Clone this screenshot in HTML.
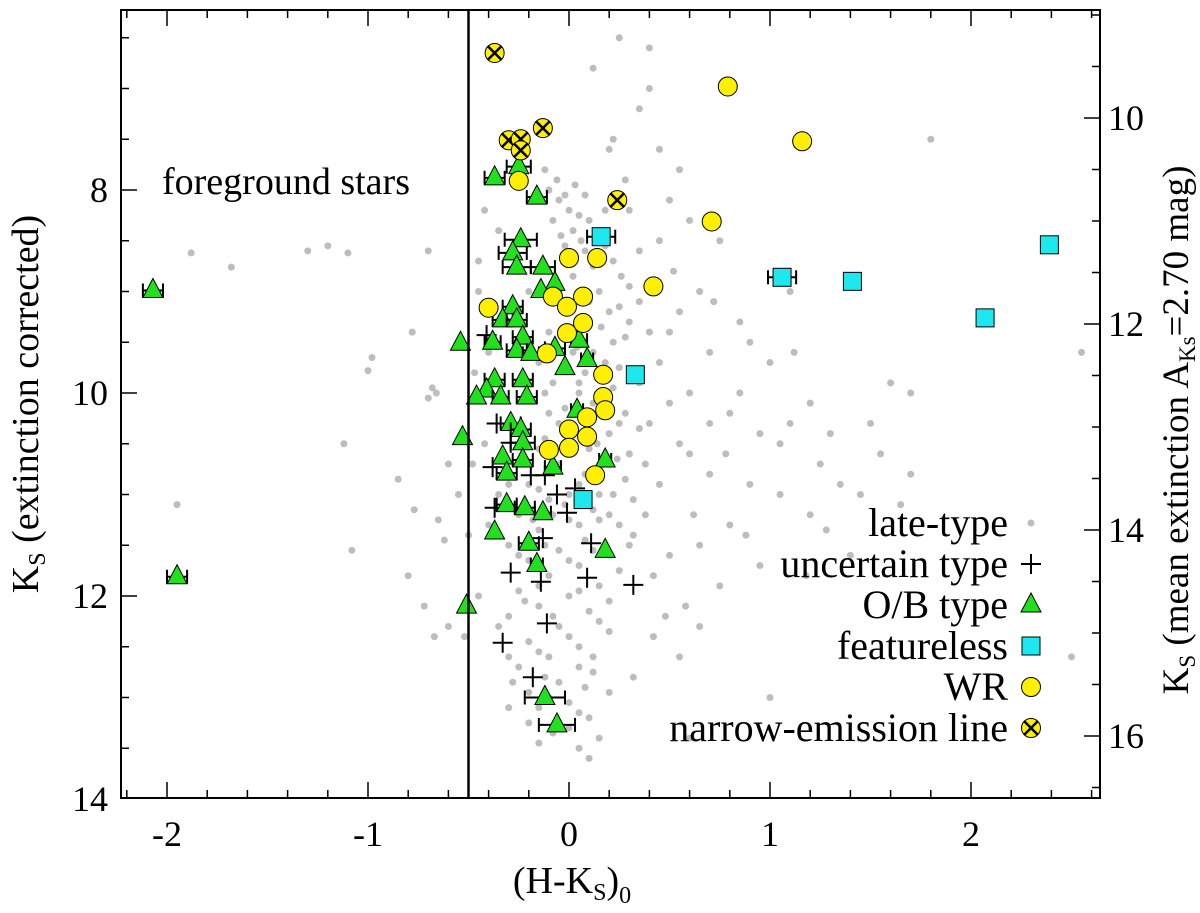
<!DOCTYPE html>
<html><head><meta charset="utf-8"><style>
html,body{margin:0;padding:0;background:#fff;}
svg text{font-family:"Liberation Serif",serif;fill:#000;}
</style></head><body>
<svg id="chart" width="1200" height="908" viewBox="0 0 1200 908" xmlns="http://www.w3.org/2000/svg">
<g id="dots"></g>
<g id="marks"></g>
<g id="axes"></g>
</svg>
<script>
const lateType = [[-1.88,8.62],[-1.68,8.76],[-1.3,8.6],[-1.2,8.55],[-1.1,8.62],[-1.95,11.1],[-1.12,10.5],[-1.08,11.55],[-1.0,9.78],[-0.98,9.65],[-0.85,10.85],[-0.8,11.8],[-0.77,11.15],[-0.72,12.1],[-0.67,12.4],[-0.7,10.05],[-0.65,11.25],[-0.62,11.45],[-0.6,12.3],[-0.78,9.4],[-0.7,8.6],[-0.55,11.0],[-0.6,10.7],[-0.66,10.0],[-0.68,9.95],
[1.8,7.5],[1.7,10.8],[1.7,10.0],[1.65,11.1],[1.5,10.3],[1.4,11.6],[1.35,10.9],[1.28,11.35],[1.25,10.7],[1.2,10.1],[1.18,11.8],[1.1,9.0],[1.05,11.0],[1.0,9.7],[0.95,10.4],[0.9,10.9],[0.88,11.4],[0.85,9.3],[0.8,10.2],[0.78,10.6],[0.75,11.9],[0.7,9.6],[0.7,10.8],[0.65,9.0],[0.62,11.2],[0.6,10.0],[0.58,12.1],[0.55,10.5],[0.5,9.4],[0.5,11.6],[0.45,10.9],[0.45,8.5],[0.42,12.4],[0.4,10.3],[0.4,7.0],[0.38,11.2],[0.35,9.1],[0.32,12.8],[0.3,8.2],[0.3,10.6],[2.55,9.6],[2.5,12.6],[1.0,13.0],[0.6,13.4],[0.4,6.6],[0.25,6.5],[0.22,7.5],[0.2,7.6],[0.12,6.8],[0.35,7.2],
[-0.1,8.0],[-0.05,8.1],[0.0,8.2],[-0.08,8.3],[0.02,8.4],[0.1,8.3],[-0.02,8.55],[0.08,8.6],[0.12,8.75],[0.02,8.85],[-0.05,9.0],[0.15,9.0],[0.2,9.2],[0.1,9.3],[-0.1,9.4],[0.22,9.5],[0.12,9.6],[-0.15,9.7],[0.25,9.75],[0.05,9.9],[-0.12,10.0],[0.15,10.05],[0.28,10.2],[-0.05,10.3],[0.2,10.4],[-0.15,10.55],[0.1,10.55],[0.3,10.6],[-0.05,10.7],[0.15,10.75],[-0.2,10.9],[0.05,10.9],[0.22,11.0],[-0.1,11.05],[0.12,11.15],[-0.25,11.2],[0.0,11.25],[0.25,11.3],[-0.15,11.35],[0.08,11.45],[-0.3,11.5],[-0.05,11.55],[0.2,11.6],[-0.2,11.65],[0.05,11.7],[-0.1,11.8],[0.15,11.9],[-0.25,11.95],[0.0,12.0],[-0.15,12.1],[0.1,12.15],[-0.3,12.2],[-0.05,12.3],[0.2,12.35],[-0.2,12.45],[0.05,12.5],[-0.1,12.6],[-0.25,12.7],[0.12,12.75],[-0.05,12.85],[-0.2,12.95],[0.0,13.05],[-0.15,13.1],[0.1,13.2],[-0.08,13.35],[0.05,13.5],[0.1,13.6],[-0.3,10.9],[-0.35,11.0],[-0.4,11.3],[-0.42,10.5],[-0.45,12.0],[-0.4,9.6],[-0.45,9.0],[-0.35,8.4],[-0.42,8.2],[-0.2,9.0],[0.02,9.6],[0.18,8.2],[0.3,9.3],[0.35,9.9],[0.38,10.7],[0.32,11.4],[-0.1,10.2],[0.05,10.0],[0.0,11.0],[-0.08,11.2],[0.15,11.25],
[-0.12,7.8],[-0.06,7.9],[0.03,7.95],[0.08,8.05],[-0.02,8.05],[0.05,8.25],[0.14,8.4],[-0.04,8.45],[0.06,8.5],[0.18,8.55],[0.22,8.7],[-0.1,8.8],[0.26,8.85],[0.3,8.95],[0.1,9.1],[0.25,9.15],[-0.02,9.2],[0.16,9.35],[0.28,9.45],[0.04,9.55],[0.18,9.7],[0.08,9.8],[0.3,9.85],[-0.08,9.9],[0.22,9.95],[0.12,10.1],[-0.02,10.15],[0.25,10.3],[0.35,10.35],[0.06,10.4],[-0.12,10.45],[0.14,10.5],[0.24,10.65],[-0.1,10.75],[0.08,10.8],[0.28,10.85],[-0.15,10.95],[0.15,11.0],[0.32,11.05],[-0.02,11.1],[0.2,11.2],[-0.18,11.25],[0.05,11.3],[0.3,11.5],[-0.12,11.5],[0.12,11.55],[-0.25,11.6],[0.0,11.65],[0.25,11.75],[-0.15,11.9],[0.05,11.95],[0.2,12.05],[-0.22,12.05],[-0.08,12.2],[0.15,12.25],[-0.35,12.3],[0.0,12.4],[-0.15,12.55],[0.12,12.6],[-0.3,12.6],[0.05,12.7],[-0.12,12.8],[-0.28,12.85],[0.08,12.9],[-0.1,13.0],[0.05,13.15],[-0.2,13.25],[0.0,13.3],[-0.3,13.1],[0.15,13.4],[-0.15,13.45],[0.2,12.95],
[0.45,9.7],[0.5,10.1],[0.55,9.2],[0.6,10.6],[0.65,11.5],[0.7,10.3],[0.72,9.1],[0.8,11.3],[0.85,10.0],[0.9,9.5],[0.95,11.7],[1.05,10.5],[1.1,10.3],[1.12,9.6],[1.2,11.2],[1.3,10.4],[1.45,11.0],[1.55,10.6],[1.6,9.9],[0.42,11.8],[0.48,12.2],[0.55,12.6],[0.65,12.3],[0.4,9.4],[0.52,8.8],[0.6,8.3],[0.75,8.5],[0.5,8.1],[0.45,7.6],[0.55,7.8],[0.28,7.9],[0.35,8.6],[-0.5,11.4],[-0.52,12.4],[-0.48,10.7],[-0.47,9.8],[-0.45,8.7]];
const uncertain = [[-0.37,11.13],[-0.29,11.77],[-0.14,11.86],[0.09,11.82],[0.32,11.89],[-0.11,12.27],[-0.33,12.46],[-0.18,12.80],[-0.06,11.0],[0.03,10.94],[-0.01,11.18],[0.11,11.48],[-0.13,11.43],[-0.19,10.81],[-0.12,10.81],[-0.36,10.30],[-0.29,10.49],[-0.38,10.73],[-0.41,9.43]];
const obType = [[-2.07,8.99],[-1.95,11.81],[-0.54,9.51],[-0.53,10.44],[-0.51,12.10],[-0.37,7.88],[-0.25,7.77],[-0.16,8.07],[-0.24,8.49],[-0.28,8.62],[-0.26,8.76],[-0.13,8.76],[-0.07,8.92],[-0.14,8.99],[-0.28,9.15],[-0.33,9.28],[-0.26,9.28],[-0.23,9.45],[-0.38,9.50],[-0.26,9.58],[-0.19,9.61],[-0.07,9.56],[0.05,9.48],[-0.02,9.75],[0.09,9.67],[-0.37,9.87],[-0.23,9.87],[-0.41,9.97],[-0.46,10.04],[-0.34,10.04],[-0.21,10.04],[-0.29,10.30],[-0.24,10.36],[0.04,10.17],[-0.23,10.49],[-0.33,10.63],[-0.23,10.66],[-0.31,10.79],[-0.08,10.73],[0.18,10.66],[-0.31,11.10],[-0.22,11.13],[-0.13,11.18],[-0.37,11.37],[-0.20,11.48],[0.18,11.55],[-0.16,11.69],[-0.12,13.00],[-0.06,13.27]];
const obErr = [0.05,0.05,0,0,0,0.05,0.06,0.05,0.08,0.07,0.07,0.06,0,0,0.05,0.05,0.05,0.05,0.04,0.05,0.04,0.05,0.04,0,0.03,0.05,0.05,0,0,0.04,0.05,0.05,0.05,0.03,0.06,0,0.05,0.05,0.04,0.03,0.05,0.05,0.04,0,0.05,0,0.03,0.1,0.09];
const wrType = [[0.79,6.98],[1.16,7.52],[0.71,8.31],[0.42,8.95],[0.14,8.67],[-0.25,7.91],[0.00,8.67],[0.07,9.05],[-0.08,9.05],[-0.01,9.15],[0.07,9.31],[-0.01,9.41],[-0.40,9.16],[-0.11,9.61],[0.17,9.82],[0.17,10.04],[0.18,10.17],[0.09,10.24],[0.00,10.36],[0.09,10.43],[0.00,10.54],[-0.10,10.56],[0.13,10.81]];
const featureless = [[0.16,8.46],[0.33,9.82],[0.07,11.05],[1.06,8.86],[1.41,8.90],[2.07,9.26],[2.39,8.54]];
const featErr = [0.07,0,0,0.07,0,0,0];
const narrowEmission = [[-0.37,6.65],[-0.13,7.39],[-0.30,7.51],[-0.24,7.50],[-0.24,7.61],[0.24,8.10]];
const xTicks = [-2,-1,0,1,2];
const yTicks = [8,10,12,14];
const y2Ticks = [10,12,14,16];

const NS='http://www.w3.org/2000/svg';
const L=121,R=1100,T=10,B=798;
const sx=v=>569+v*201;
const sy=v=>190+(v-8)*101.5;
const sy2=v=>118+(v-10)*103;
function el(tag,attrs,parent){const e=document.createElementNS(NS,tag);for(const k in attrs)e.setAttribute(k,attrs[k]);parent.appendChild(e);return e;}
const dots=document.getElementById('dots'),marks=document.getElementById('marks'),axes=document.getElementById('axes');

lateType.forEach(p=>{const c=el('circle',{cx:sx(p[0]),cy:sy(p[1]),r:3.5,fill:'#bdbdbd'},dots);

});
function errbar(x,y,e,g){if(!e)return;const x1=sx(x-e),x2=sx(x+e);el('line',{x1:x1,x2:x2,y1:y,y2:y,stroke:'#000','stroke-width':2},g);el('line',{x1:x1,x2:x1,y1:y-7,y2:y+7,stroke:'#000','stroke-width':2},g);el('line',{x1:x2,x2:x2,y1:y-7,y2:y+7,stroke:'#000','stroke-width':2},g);}
function plus(x,y,g){el('path',{d:`M${x-10},${y}H${x+10}M${x},${y-10}V${y+10}`,stroke:'#000','stroke-width':2,fill:'none'},g);}
function tri(x,y,g){el('path',{d:`M${x},${y-12}L${x+10},${y+7}L${x-10},${y+7}Z`,fill:'#22e01e',stroke:'#000','stroke-width':1},g);}
function sq(x,y,g){el('rect',{x:x-9,y:y-9,width:18,height:18,fill:'#1de8ee',stroke:'#000','stroke-width':1},g);}
function circ(x,y,g){el('circle',{cx:x,cy:y,r:9.5,fill:'#ffef00',stroke:'#000','stroke-width':1},g);}
function cross(x,y,g){circ(x,y,g);el('path',{d:`M${x-7},${y-7}L${x+7},${y+7}M${x+7},${y-7}L${x-7},${y+7}`,stroke:'#000','stroke-width':2.5},g);}

uncertain.forEach(p=>{const g=el('g',{},marks);
plus(sx(p[0]),sy(p[1]),g);});
obType.forEach((p,i)=>{const g=el('g',{},marks);
errbar(p[0],sy(p[1]),obErr[i],g);tri(sx(p[0]),sy(p[1]),g);});
wrType.forEach(p=>{const g=el('g',{},marks);
circ(sx(p[0]),sy(p[1]),g);});
featureless.forEach((p,i)=>{const g=el('g',{},marks);
errbar(p[0],sy(p[1]),featErr[i],g);sq(sx(p[0]),sy(p[1]),g);});
narrowEmission.forEach(p=>{const g=el('g',{},marks);
cross(sx(p[0]),sy(p[1]),g);});

const frame=el('rect',{x:L,y:T,width:R-L,height:B-T,fill:'none',stroke:'#000','stroke-width':2},axes);


const vl=el('line',{x1:sx(-0.5),x2:sx(-0.5),y1:T,y2:B,stroke:'#000','stroke-width':2.5},axes);


for(let v=-2.2;v<=2.6001;v+=0.2){const x=sx(v);const maj=Math.abs(v-Math.round(v))<1e-6;const len=maj?16:8;
el('line',{x1:x,x2:x,y1:B,y2:B-len,stroke:'#000','stroke-width':1.5},axes);el('line',{x1:x,x2:x,y1:T,y2:T+len,stroke:'#000','stroke-width':1.5},axes);}
xTicks.forEach(v=>{const t=el('text',{x:sx(v),y:846,'font-size':36,'text-anchor':'middle'},axes);t.textContent=v;

});
for(let v=6.5;v<=14;v+=0.5){const y=sy(v);if(y<T||y>B)continue;const maj=v%2===0;const len=maj?16:8;el('line',{x1:L,x2:L+len,y1:y,y2:y,stroke:'#000','stroke-width':1.5},axes);}
yTicks.forEach(v=>{const t=el('text',{x:108,y:sy(v)+12,'font-size':36,'text-anchor':'end'},axes);t.textContent=v;

});
for(let v=9;v<=16.6;v+=0.5){const y=sy2(v);if(y<T||y>B)continue;const maj=v%2===0;const len=maj?16:8;el('line',{x1:R,x2:R-len,y1:y,y2:y,stroke:'#000','stroke-width':1.5},axes);}
y2Ticks.forEach(v=>{const t=el('text',{x:1108,y:sy2(v)+12,'font-size':36,'text-anchor':'start'},axes);t.textContent=v;

});
</script>
<svg style="position:absolute;left:0;top:0" width="1200" height="908">
<text x="162" y="194" font-size="38">foreground stars</text>
<text x="572" y="893" font-size="38" text-anchor="middle">(H-K<tspan font-size="24" dy="7">S</tspan><tspan dy="-7">)</tspan><tspan font-size="24" dy="10">0</tspan></text>
<text transform="translate(38,404) rotate(-90)" font-size="38" text-anchor="middle">K<tspan font-size="24" dy="7">S</tspan><tspan dy="-7"> (extinction corrected)</tspan></text>
<text transform="translate(1188,430) rotate(-90)" font-size="37" text-anchor="middle">K<tspan font-size="23" dy="7">S</tspan><tspan dy="-7"> (mean extinction A</tspan><tspan font-size="23" dy="7">Ks</tspan><tspan dy="-7">=2.70 mag)</tspan></text>
<g font-size="40">
<text x="1008" y="536" text-anchor="end">late-type</text>
<circle cx="1031" cy="523" r="3.5" fill="#bdbdbd"/>
<text x="1008" y="577" text-anchor="end">uncertain type</text>
<path d="M1021,564H1041M1031,554V574" stroke="#000" stroke-width="2"/>
<text x="1008" y="618" text-anchor="end">O/B type</text>
<path d="M1031,593L1041,612L1021,612Z" fill="#22e01e" stroke="#000"/>
<text x="1008" y="659" text-anchor="end">featureless</text>
<rect x="1022" y="637" width="18" height="18" fill="#1de8ee" stroke="#000"/>
<text x="1008" y="700" text-anchor="end">WR</text>
<circle cx="1031" cy="687" r="9.5" fill="#ffef00" stroke="#000"/>
<text x="1008" y="741" text-anchor="end">narrow-emission line</text>
<circle cx="1031" cy="728" r="9.5" fill="#ffef00" stroke="#000"/>
<path d="M1024,721L1038,735M1038,721L1024,735" stroke="#000" stroke-width="2.5"/>
</g>
</svg>
</body></html>
